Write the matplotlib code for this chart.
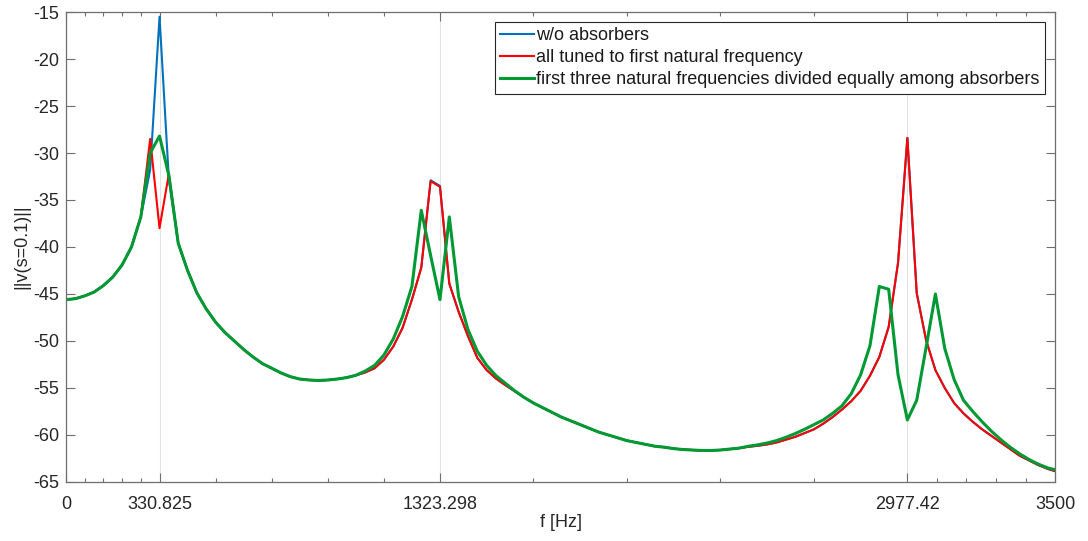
import numpy as np
import matplotlib
matplotlib.use('Agg')
import matplotlib.pyplot as plt
from matplotlib.ticker import FixedLocator, FixedFormatter

plt.rcParams['font.family'] = ['Liberation Sans', 'DejaVu Sans']

# frequency grid: f1/10 steps up to 3500 Hz, plus the end point
df = 33.0825
freq = np.append(np.arange(106) * df, 3500.0)

xtick_vals = [0, 330.825, 1323.298, 2977.42, 3500]
xtick_labels = ['0', '330.825', '1323.298', '2977.42', '3500']
ytick_vals = [-65, -60, -55, -50, -45, -40, -35, -30, -25, -20, -15]

labels = ['w/o absorbers',
          'all tuned to first natural frequency',
          'first three natural frequencies divided equally among absorbers']

v_none = [-45.6, -45.5, -45.2, -44.8, -44.1, -43.2, -41.9, -40.0, -36.8, -31.8,
          -15.5, -32.8, -39.6, -42.5, -44.9, -46.6, -48.0, -49.1, -50.0, -50.9,
          -51.7, -52.4, -52.9, -53.4, -53.8, -54.05, -54.15, -54.2, -54.15, -54.05,
          -53.9, -53.65, -53.35, -52.9, -52.0, -50.6, -48.6, -45.6, -42.2, -32.9,
          -33.5, -43.9, -46.9, -49.5, -51.8, -53.1, -54.0, -54.7, -55.35, -56.0,
          -56.6, -57.1, -57.6, -58.1, -58.5, -58.9, -59.3, -59.7, -60.0, -60.3,
          -60.6, -60.8, -61.0, -61.2, -61.3, -61.45, -61.55, -61.6, -61.65, -61.65,
          -61.6, -61.5, -61.4, -61.25, -61.15, -61.0, -60.8, -60.5, -60.2, -59.8,
          -59.4, -58.8, -58.1, -57.3, -56.4, -55.3, -53.7, -51.7, -48.5, -41.7,
          -28.4, -44.9, -49.9, -53.1, -55.0, -56.6, -57.7, -58.6, -59.4, -60.1,
          -60.8, -61.5, -62.2, -62.7, -63.2, -63.6, -63.85]

v_first = [-45.6, -45.5, -45.2, -44.8, -44.1, -43.2, -41.9, -40.0, -36.8, -28.5,
           -38.0, -32.2, -39.6, -42.5, -44.9, -46.6, -48.0, -49.1, -50.0, -50.9,
           -51.7, -52.4, -52.9, -53.4, -53.8, -54.05, -54.15, -54.2, -54.15, -54.05,
           -53.9, -53.65, -53.35, -52.9, -52.0, -50.6, -48.6, -45.6, -42.2, -33.0,
           -33.6, -43.9, -46.9, -49.5, -51.8, -53.1, -54.0, -54.7, -55.35, -56.0,
           -56.6, -57.1, -57.6, -58.1, -58.5, -58.9, -59.3, -59.7, -60.0, -60.3,
           -60.6, -60.8, -61.0, -61.2, -61.3, -61.45, -61.55, -61.6, -61.65, -61.65,
           -61.6, -61.5, -61.4, -61.25, -61.15, -61.0, -60.8, -60.5, -60.2, -59.8,
           -59.4, -58.8, -58.1, -57.3, -56.4, -55.3, -53.7, -51.7, -48.5, -41.7,
           -28.4, -44.9, -49.9, -53.1, -55.0, -56.6, -57.7, -58.6, -59.4, -60.1,
           -60.8, -61.5, -62.2, -62.7, -63.2, -63.6, -63.85]

v_three = [-45.6, -45.5, -45.2, -44.8, -44.1, -43.2, -41.9, -40.0, -36.8, -30.0,
           -28.2, -32.4, -39.6, -42.5, -44.9, -46.6, -48.0, -49.1, -50.0, -50.9,
           -51.7, -52.4, -52.9, -53.4, -53.8, -54.05, -54.15, -54.2, -54.15, -54.05,
           -53.9, -53.65, -53.2, -52.6, -51.5, -49.8, -47.4, -44.2, -36.1, -40.9,
           -45.6, -36.8, -45.3, -48.8, -51.1, -52.6, -53.7, -54.5, -55.3, -56.0,
           -56.6, -57.1, -57.6, -58.1, -58.5, -58.9, -59.3, -59.7, -60.0, -60.3,
           -60.6, -60.8, -61.0, -61.2, -61.3, -61.45, -61.55, -61.6, -61.65, -61.65,
           -61.6, -61.5, -61.4, -61.2, -61.05, -60.85, -60.6, -60.25, -59.85, -59.4,
           -58.9, -58.4, -57.7, -56.9, -55.6, -53.6, -50.5, -44.2, -44.5, -53.6,
           -58.4, -56.3, -50.7, -45.0, -50.8, -54.1, -56.3, -57.5, -58.6, -59.6,
           -60.5, -61.3, -62.0, -62.6, -63.1, -63.5, -63.7]

fig = plt.figure(figsize=(10.88, 5.41), dpi=100)
ax = fig.add_axes([0.0607, 0.1091, 0.9090, 0.8687])

ax.plot(freq, v_none, color='#0072BD', lw=1.5, label=labels[0])
ax.plot(freq, v_first, color='#FF0000', lw=1.5, label=labels[1])
ax.plot(freq, v_three, color='#009933', lw=2.2, label=labels[2])

ax.set_xlim(0, 3500)
ax.set_ylim(-65, -15)

# minor ticks: five sub-intervals between each pair of major ticks
minor = []
for a, b in zip(xtick_vals[:-1], xtick_vals[1:]):
    minor.extend(np.linspace(a, b, 6)[1:-1])
ax.xaxis.set_major_locator(FixedLocator(xtick_vals))
ax.xaxis.set_major_formatter(FixedFormatter(xtick_labels))
ax.xaxis.set_minor_locator(FixedLocator(minor))
ax.set_yticks(ytick_vals)
ax.set_yticklabels([str(v) for v in ytick_vals])

axc = '#262626'
for s in ax.spines.values():
    s.set_color('#6e6e6e')
    s.set_linewidth(0.9)
ax.tick_params(which='both', direction='in', top=True, right=True,
               colors='#6e6e6e', labelcolor=axc, labelsize=13)
ax.tick_params(which='major', length=6.5, width=0.8)
ax.tick_params(which='minor', length=3.2, width=0.8)
ax.tick_params(axis='x', which='major', pad=10)
ax.tick_params(axis='y', which='major', pad=5)

ax.grid(axis='x', which='major', color='#e3e3e3', lw=0.8)
ax.set_axisbelow(True)

ax.set_xlabel('f [Hz]', fontsize=13, color=axc, labelpad=1)
ax.set_ylabel('||v(s=0.1)||', fontsize=13, color=axc, labelpad=2)

leg = ax.legend(loc='upper right', fontsize=13, frameon=True, fancybox=False,
                edgecolor='#262626', framealpha=1, borderaxespad=0.55,
                handlelength=1.85, handletextpad=0.15, borderpad=0.3,
                labelspacing=0.28)
leg.get_frame().set_linewidth(0.8)
for t in leg.get_texts():
    t.set_color('#1a1a1a')

fig.savefig('out.png', dpi=100)
